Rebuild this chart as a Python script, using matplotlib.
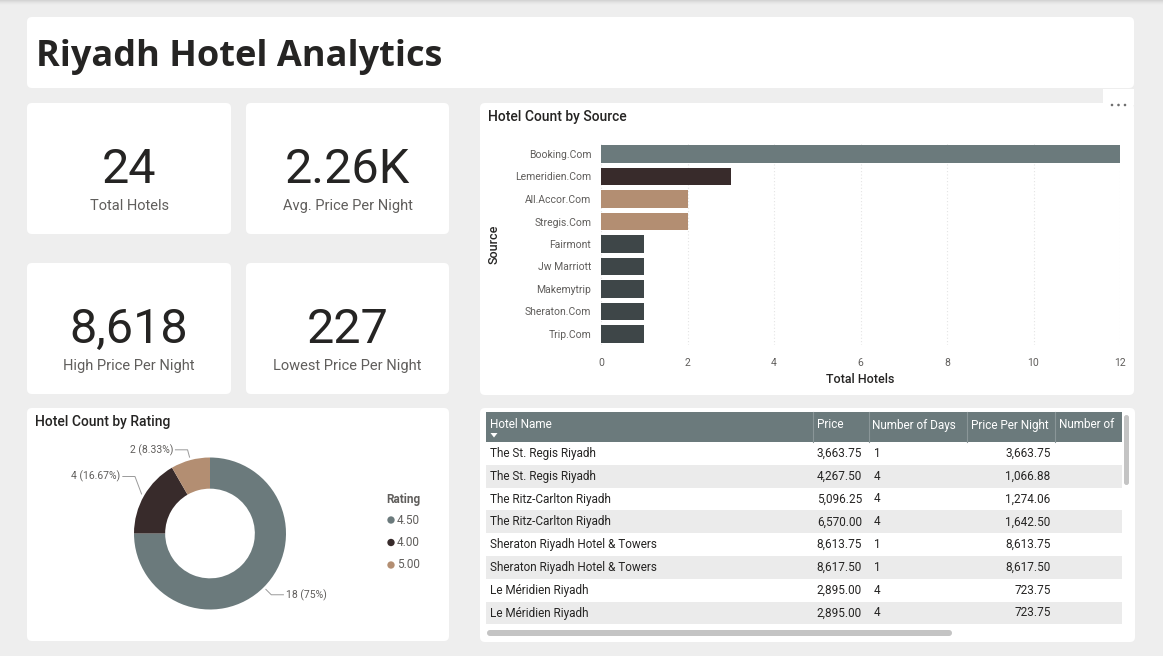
import matplotlib
matplotlib.use("Agg")
import matplotlib.pyplot as plt
import numpy as np
from matplotlib import font_manager
from matplotlib.patches import FancyBboxPatch, Rectangle, Polygon

W, H = 1163, 656

TITLE = "Riyadh Hotel Analytics"

kpi_values = ["24", "2.26K", "8,618", "227"]
kpi_labels = ["Total Hotels", "Avg. Price Per Night", "High Price Per Night", "Lowest Price Per Night"]

sources = ["Booking.Com", "Lemeridien.Com", "All.Accor.Com", "Stregis.Com", "Fairmont",
           "Jw Marriott", "Makemytrip", "Sheraton.Com", "Trip.Com"]
source_counts = [12, 3, 2, 2, 1, 1, 1, 1, 1]
x_ticks = [0, 2, 4, 6, 8, 10, 12]

ratings = ["4.50", "4.00", "5.00"]
rating_counts = [18, 4, 2]

table_columns = ["Hotel Name", "Price", "Number of Days", "Price Per Night", "Number of"]
hotel_names = ["The St. Regis Riyadh", "The St. Regis Riyadh", "The Ritz-Carlton Riyadh",
               "The Ritz-Carlton Riyadh", "Sheraton Riyadh Hotel & Towers",
               "Sheraton Riyadh Hotel & Towers", "Le Méridien Riyadh", "Le Méridien Riyadh"]
prices = [3663.75, 4267.50, 5096.25, 6570.00, 8613.75, 8617.50, 2895.00, 2895.00]
days = [1, 4, 4, 4, 1, 1, 4, 4]
price_per_night = [3663.75, 1066.88, 1274.06, 1642.50, 8613.75, 8617.50, 723.75, 723.75]

BG = "#eeeeee"
DARK = "#252423"
MUTED = "#605e5c"
GRAY = "#6b7a7c"
BROWN = "#382b2b"
TAN = "#b38e72"
SLATE = "#3e4648"

installed = {f.name for f in font_manager.fontManager.ttflist}
TITLE_FONT = "Open Sans" if "Open Sans" in installed else "DejaVu Sans"
plt.rcParams["font.family"] = ["Roboto", "DejaVu Sans"]


def rect(x0, y0, x1, y1):
    # pixel box (top-left origin) -> figure fraction
    return [x0 / W, 1 - y1 / H, (x1 - x0) / W, (y1 - y0) / H]


def card(ax, x0, y0, x1, y1):
    ax.add_patch(FancyBboxPatch((x0, y0), x1 - x0, y1 - y0,
                                boxstyle="round,pad=0,rounding_size=5",
                                fc="white", ec="none"))


fig = plt.figure(figsize=(W / 100, H / 100), dpi=100)
fig.patch.set_facecolor(BG)

bg = fig.add_axes([0, 0, 1, 1])
bg.set_xlim(0, W)
bg.set_ylim(H, 0)
bg.axis("off")

# faint shadow along the top edge
for i, c in enumerate(["#d4d4d4", "#dcdcdc", "#e3e3e3", "#e8e8e8", "#ececec"]):
    bg.add_patch(Rectangle((0, i), W, 1, fc=c, ec="none"))

# title
card(bg, 27, 17, 1134, 88)
bg.text(36, 66, TITLE, fontsize=26, fontweight="bold", color=DARK,
        family=TITLE_FONT, va="baseline", ha="left")

# KPI cards
kpi_boxes = [(27, 103, 231, 234), (246, 103, 449, 234),
             (27, 263, 231, 394), (246, 263, 449, 394)]
for (x0, y0, x1, y1), val, lab in zip(kpi_boxes, kpi_values, kpi_labels):
    card(bg, x0, y0, x1, y1)
    cx = (x0 + x1) / 2
    bg.text(cx, y0 + 80, val, fontsize=35, color=DARK, ha="center", va="baseline")
    bg.text(cx, y0 + 107, lab, fontsize=10.5, color=MUTED, ha="center", va="baseline")

# bar chart card
card(bg, 480, 103, 1134, 395)
bg.add_patch(Rectangle((1103, 89), 31, 16, fc="white", ec="none"))
bg.scatter([1112, 1118.5, 1125], [105, 105, 105], s=3.5, color="#6e6e6e",
           edgecolors="none", zorder=5)
bg.text(488, 117, "Hotel Count by Source", fontsize=10, fontweight="medium",
        color=DARK, ha="left", va="center")

count_colors = {12: GRAY, 3: BROWN, 2: TAN, 1: SLATE}
bar_colors = [count_colors[c] for c in source_counts]

ax_bar = fig.add_axes(rect(601, 142.75, 1120, 345.25))
ax_bar.set_facecolor("none")
ax_bar.barh(range(len(sources)), source_counts, height=0.79, color=bar_colors, zorder=3)
ax_bar.set_ylim(len(sources) - 0.5, -0.5)
ax_bar.set_xlim(0, 12)
ax_bar.set_yticks(range(len(sources)))
ax_bar.set_yticklabels(sources)
ax_bar.set_xticks(x_ticks)
ax_bar.tick_params(length=0, labelsize=7.5, labelcolor=MUTED)
ax_bar.tick_params(axis="y", pad=7)
ax_bar.tick_params(axis="x", pad=9)
ax_bar.grid(axis="x", color="#e4e4e4", linestyle=(0, (1, 2)), linewidth=0.8, zorder=0)
for s in ax_bar.spines.values():
    s.set_visible(False)
ax_bar.set_xlabel("Total Hotels", fontsize=9, fontweight="medium", color=DARK)
ax_bar.xaxis.set_label_coords(0.5, -0.167)
ax_bar.xaxis.label.set_va("center")
ax_bar.set_ylabel("Source", fontsize=9, fontweight="medium", color=DARK)
ax_bar.yaxis.set_label_coords(-0.206, 0.5)
ax_bar.yaxis.label.set_va("center")

# donut card
card(bg, 27, 408, 449, 641)
bg.text(35, 422, "Hotel Count by Rating", fontsize=10, fontweight="medium",
        color=DARK, ha="left", va="center")

pie_colors = [GRAY, BROWN, TAN]
ax_pie = fig.add_axes(rect(134, 457.5, 286, 609.5))
wedges, _ = ax_pie.pie(rating_counts, colors=pie_colors, startangle=90, counterclock=False,
                       radius=1, wedgeprops=dict(width=0.41, edgecolor="none"))
ax_pie.set_xlim(-1, 1)
ax_pie.set_ylim(-1, 1)
ax_pie.axis("off")

total = sum(rating_counts)
for w, n in zip(wedges, rating_counts):
    mid = np.deg2rad((w.theta1 + w.theta2) / 2)
    cx, cy = np.cos(mid), np.sin(mid)
    # nudge labels in the upper-left away from each other, like the original
    lift = 0.18 if (cx < 0 and cy < 0.9) else 0.0
    p0 = (1.04 * cx, 1.04 * cy)
    p1 = (1.14 * cx, 1.14 * cy + lift)
    side = 1 if cx >= 0 else -1
    p2 = (p1[0] + side * 0.16, p1[1])
    ax_pie.plot([p0[0], p1[0], p2[0]], [p0[1], p1[1], p2[1]], color="#9a9a9a",
                linewidth=0.7, clip_on=False)
    pct = n / total * 100
    lab = f"{n} ({pct:.2f}%)".replace(".00%", "%")
    ax_pie.text(p2[0] + side * 0.03, p2[1], lab, fontsize=7.5, color=MUTED,
                ha="left" if side > 0 else "right", va="center")

bg.text(386, 500, "Rating", fontsize=8.5, fontweight="bold", color=MUTED,
        ha="left", va="center")
for i, (r, c) in enumerate(zip(ratings, pie_colors)):
    y = 520 + i * 22.5
    bg.scatter([391], [y], s=28, color=c, edgecolors="none")
    bg.text(397, y, r, fontsize=8.5, color=MUTED, ha="left", va="center")

# table card
card(bg, 480, 408, 1135, 642)
tx0, tx1 = 486, 1122
header_top, header_bot = 412, 442
row_h = 22.8
col_edges = [tx0, 813, 868.5, 967, 1055, tx1]
bg.add_patch(Rectangle((tx0, header_top), tx1 - tx0, header_bot - header_top,
                       fc=GRAY, ec="none"))
for xe in col_edges[1:-1]:
    bg.plot([xe, xe], [header_top, header_bot], color="#8a9698", linewidth=0.8)
for xe, name in zip(col_edges[:-1], table_columns):
    bg.text(xe + 4, 425, name, fontsize=8.5, color="white", ha="left", va="center")
bg.add_patch(Polygon([(490.5, 433), (497.5, 433), (494, 437.5)], closed=True,
                     fc="white", ec="none"))

for i, (hn, p, d, ppn) in enumerate(zip(hotel_names, prices, days, price_per_night)):
    y0 = header_bot + i * row_h
    bg.add_patch(Rectangle((tx0, y0), tx1 - tx0, row_h,
                           fc="white" if i % 2 == 0 else "#ebebeb", ec="none"))
    yc = y0 + row_h / 2
    bg.text(490, yc, hn, fontsize=8.5, color=DARK, ha="left", va="center")
    bg.text(862, yc, f"{p:,.2f}", fontsize=8.5, color=DARK, ha="right", va="center")
    bg.text(874, yc, f"{d}", fontsize=8.5, color=DARK, ha="left", va="center")
    bg.text(1050.5, yc, f"{ppn:,.2f}", fontsize=8.5, color=DARK, ha="right", va="center")

# scrollbars
bg.add_patch(FancyBboxPatch((1124, 415), 5, 70, boxstyle="round,pad=0,rounding_size=2.5",
                            fc="#c4c4c4", ec="none"))
bg.add_patch(FancyBboxPatch((487, 630), 465, 6, boxstyle="round,pad=0,rounding_size=3",
                            fc="#c4c4c4", ec="none"))

fig.savefig("out.png", dpi=100, facecolor=BG)
